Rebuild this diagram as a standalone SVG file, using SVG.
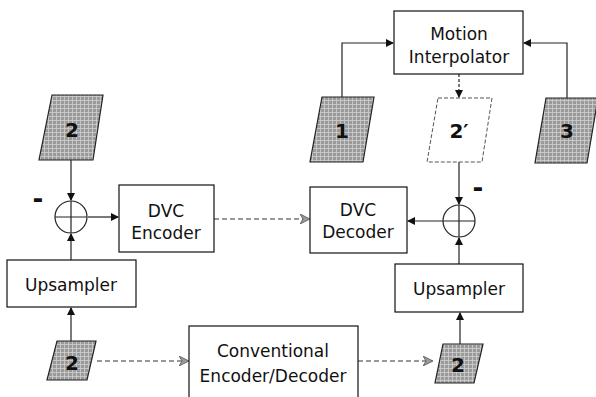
<svg xmlns="http://www.w3.org/2000/svg" width="596" height="397" viewBox="0 0 596 397">
<defs>
<marker id="ah" markerWidth="8" markerHeight="8" refX="7" refY="4" orient="auto" markerUnits="userSpaceOnUse"><path d="M0,0 L8,4 L0,8 z" fill="#111"/></marker>
<marker id="ahd" markerWidth="10" markerHeight="10" refX="9" refY="5" orient="auto" markerUnits="userSpaceOnUse"><path d="M0,0 L10,5 L0,10 L3,5 z" fill="#999" stroke="#555" stroke-width="0.8"/></marker>
<pattern id="ht" width="4" height="4" patternUnits="userSpaceOnUse"><rect width="4" height="4" fill="#9a9a9a"/><path d="M0,0.5 H4 M0.5,0 V4" stroke="#d0d0d0" stroke-width="0.8"/></pattern>
<style>
.box{fill:#fff;stroke:#111;stroke-width:1.2}
.lbl{font-family:"DejaVu Sans",Verdana,sans-serif;font-size:17px;fill:#111;text-anchor:middle}
.num{font-family:"DejaVu Sans",Verdana,sans-serif;font-size:20px;font-weight:bold;fill:#111;text-anchor:middle}
.frame{fill:url(#ht);stroke:#222;stroke-width:1.2}
.sol{fill:none;stroke:#222;stroke-width:1.2}
.dsh{fill:none;stroke:#777;stroke-width:1.5;stroke-dasharray:5,3}
.sum{fill:#fff;stroke:#222;stroke-width:1.2}
.minus{font-family:"DejaVu Sans",Verdana,sans-serif;font-size:26px;font-weight:bold;fill:#111;text-anchor:middle}
</style>
</defs>

<g id="connectors">
<path class="sol" d="M71,160 V200" marker-end="url(#ah)"/>
<path class="sol" d="M71,260 V234" marker-end="url(#ah)"/>
<path class="sol" d="M88,217 H118" marker-end="url(#ah)"/>
<path class="sol" d="M71,341 V308" marker-end="url(#ah)"/>
<path class="dsh" d="M97,361 H188" marker-end="url(#ahd)"/>
<path class="dsh" d="M214,219 H309" marker-end="url(#ahd)"/>
<path class="dsh" d="M358,361 H432" marker-end="url(#ahd)"/>
<path class="sol" d="M460,344 V313" marker-end="url(#ah)"/>
<path class="sol" d="M459,264 V238" marker-end="url(#ah)"/>
<path class="sol" d="M443,221 H408" marker-end="url(#ah)"/>
<path class="sol" d="M459,162 V204" marker-end="url(#ah)"/>
<path class="sol" d="M342,97 V43 H393" marker-end="url(#ah)"/>
<path class="sol" d="M567,98 V43 H524" marker-end="url(#ah)"/>
<path class="sol" d="M459,74 V97" stroke-dasharray="3,2" marker-end="url(#ah)"/>
</g>

<g id="frame2-top">
<polygon class="frame" points="52,95 103,95 93,160 39,160"/>
<text class="num" x="72" y="137">2</text>
</g>
<g id="minus-left"><text class="minus" x="38" y="208">-</text></g>
<g id="sum-left">
<circle class="sum" cx="71" cy="217" r="16"/>
<path class="sol" d="M55,217 H87 M71,201 V233"/>
</g>
<g id="dvc-encoder">
<rect class="box" x="119" y="185" width="95" height="67"/>
<text class="lbl" x="166" y="217">DVC</text>
<text class="lbl" x="166" y="239">Encoder</text>
</g>
<g id="upsampler-left">
<rect class="box" x="7" y="260" width="129" height="47"/>
<text class="lbl" x="71" y="291">Upsampler</text>
</g>
<g id="frame2-bottom-left">
<polygon class="frame" points="57,341 96,341 87,380 47,380"/>
<text class="num" x="72" y="370">2</text>
</g>
<g id="conventional">
<rect class="box" x="189" y="326" width="169" height="75"/>
<text class="lbl" x="273" y="357">Conventional</text>
<text class="lbl" x="273" y="382">Encoder/Decoder</text>
</g>
<g id="frame2-bottom-right">
<polygon class="frame" points="443,344 483,344 474,383 435,383"/>
<text class="num" x="458" y="372">2</text>
</g>
<g id="upsampler-right">
<rect class="box" x="395" y="264" width="128" height="48"/>
<text class="lbl" x="459" y="295">Upsampler</text>
</g>
<g id="sum-right">
<circle class="sum" cx="459" cy="221" r="16"/>
<path class="sol" d="M443,221 H475 M459,205 V237"/>
</g>
<g id="minus-right"><text class="minus" x="478" y="197">-</text></g>
<g id="dvc-decoder">
<rect class="box" x="310" y="187" width="97" height="66"/>
<text class="lbl" x="358" y="216">DVC</text>
<text class="lbl" x="358" y="238">Decoder</text>
</g>
<g id="motion-interpolator">
<rect class="box" x="394" y="11" width="129" height="63"/>
<text class="lbl" x="459" y="40">Motion</text>
<text class="lbl" x="459" y="63">Interpolator</text>
</g>
<g id="frame1">
<polygon class="frame" points="322,97 374,97 363,162 310,162"/>
<text class="num" x="342" y="138">1</text>
</g>
<g id="frame2prime">
<polygon points="438,98 492,98 482,162 427,162" fill="#fff" stroke="#555" stroke-width="1" stroke-dasharray="4,2"/>
<text class="num" x="459" y="138">2′</text>
</g>
<g id="frame3">
<polygon class="frame" points="546,98 598,98 587,163 535,163"/>
<text class="num" x="567" y="138">3</text>
</g>
</svg>
